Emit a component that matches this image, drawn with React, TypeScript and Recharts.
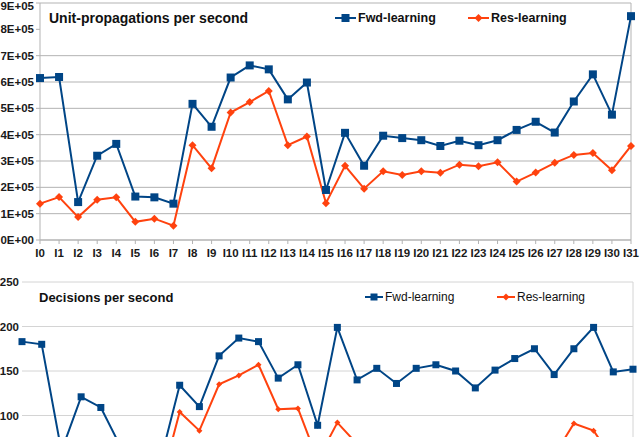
import React from "react";
import {
  LineChart,
  Line,
  XAxis,
  YAxis,
  CartesianGrid,
  ReferenceLine,
  Legend,
} from "recharts";

const instances = [
  "I0", "I1", "I2", "I3", "I4", "I5", "I6", "I7", "I8", "I9",
  "I10", "I11", "I12", "I13", "I14", "I15", "I16", "I17", "I18", "I19",
  "I20", "I21", "I22", "I23", "I24", "I25", "I26", "I27", "I28", "I29",
  "I30", "I31",
];

// unit propagations per second
const upsFwd = [
  615000, 619000, 144000, 320000, 365000, 165000, 162000, 138000, 517000, 430000,
  617000, 663000, 648000, 534000, 598000, 190000, 407000, 282000, 396000, 387000,
  379000, 357000, 377000, 360000, 379000, 418000, 449000, 408000, 526000, 629000,
  476000, 850000,
];
const upsRes = [
  138000, 163000, 87000, 153000, 162000, 69000, 81000, 54000, 360000, 272000,
  484000, 524000, 566000, 360000, 393000, 140000, 282000, 195000, 261000, 247000,
  261000, 255000, 286000, 280000, 295000, 222000, 256000, 293000, 323000, 330000,
  265000, 357000,
];

// decisions per second
const decFwd = [
  183, 180, 60, 121, 109, 65, 60, 47, 134, 110,
  167, 187, 183, 142, 157, 89, 199, 140, 153, 136,
  153, 157, 150, 131, 151, 164, 175, 146, 175, 199,
  149, 152,
];
const decRes = [
  50, 55, 30, 50, 55, 25, 30, 20, 104, 83,
  135, 145, 157, 107, 108, 50, 92, 68, 60, 58,
  60, 58, 62, 60, 63, 50, 52, 55, 91, 83,
  50, 62,
];

const upsTicks = [0, 100000, 200000, 300000, 400000, 500000, 600000, 700000, 800000, 900000];
// only the part of the decisions axis that is on the page
const decTicks = [100, 150, 200, 250];

const FWD = "#004586";
const RES = "#ff420e";
const FONT = "'Liberation Sans', Arial, sans-serif";

const upsData = instances.map((name, i) => ({ name, fwd: upsFwd[i], res: upsRes[i] }));
const decData = instances.map((name, i) => ({ name, fwd: decFwd[i], res: decRes[i] }));

const sciFormat = (v: number) => (v === 0 ? "0E+00" : `${v / 100000}E+05`);

const squareDot = (size: number) => (props: any) => {
  const { cx, cy, index } = props;
  if (cx == null || cy == null) return <g key={index} />;
  return (
    <rect key={index} x={cx - size / 2} y={cy - size / 2} width={size} height={size} fill={FWD} />
  );
};

const diamondDot = (size: number) => (props: any) => {
  const { cx, cy, index } = props;
  if (cx == null || cy == null) return <g key={index} />;
  const h = size / 2;
  return (
    <polygon
      key={index}
      points={`${cx},${cy - h} ${cx + h},${cy} ${cx},${cy + h} ${cx - h},${cy}`}
      fill={RES}
    />
  );
};

function LegendIcon({ kind, w, size }: { kind: "square" | "diamond"; w: number; size: number }) {
  const c = kind === "square" ? FWD : RES;
  const m = w / 2;
  return (
    <svg width={w} height={12} style={{ display: "block" }}>
      <line x1={0} y1={6} x2={w} y2={6} stroke={c} strokeWidth={2} />
      {kind === "square" ? (
        <rect x={m - size / 2} y={6 - size / 2} width={size} height={size} fill={c} />
      ) : (
        <polygon
          points={`${m},${6 - size / 2} ${m + size / 2},6 ${m},${6 + size / 2} ${m - size / 2},6`}
          fill={c}
        />
      )}
    </svg>
  );
}

const makeLegend =
  (opts: { fontSize: number; weight: number; iconW: number; size: number; resLeft: number }) =>
  () =>
    (
      <div style={{ position: "relative", height: 20, width: 260, fontFamily: FONT }}>
        {[
          { label: "Fwd-learning", kind: "square" as const, left: 0 },
          { label: "Res-learning", kind: "diamond" as const, left: opts.resLeft },
        ].map((it) => (
          <div
            key={it.label}
            style={{
              position: "absolute",
              left: it.left,
              top: 0,
              height: 20,
              display: "flex",
              alignItems: "center",
              gap: 2,
              fontSize: opts.fontSize,
              fontWeight: opts.weight,
              color: "#111",
              whiteSpace: "nowrap",
            }}
          >
            <LegendIcon kind={it.kind} w={opts.iconW} size={opts.size} />
            <span>{it.label}</span>
          </div>
        ))}
      </div>
    );

const tickStyle = { fontSize: 11.5, fontWeight: 700, fill: "#1a1a1a", fontFamily: FONT };

export default function App() {
  return (
    <div
      style={{
        position: "fixed",
        left: 0,
        top: 0,
        width: 640,
        height: 437,
        overflow: "hidden",
        background: "#fff",
        fontFamily: FONT,
      }}
    >
      {/* top chart */}
      <div style={{ position: "absolute", left: 0, top: 0 }}>
        <LineChart
          width={640}
          height={265}
          data={upsData}
          margin={{ top: 3, right: 9, left: 0, bottom: 0 }}
        >
          <CartesianGrid vertical={false} stroke="#b3b3b3" />
          <XAxis
            dataKey="name"
            interval={0}
            height={25}
            tick={tickStyle}
            tickSize={4}
            tickMargin={5}
            stroke="#b3b3b3"
          />
          <YAxis
            width={40}
            domain={[0, 900000]}
            ticks={upsTicks}
            tickFormatter={sciFormat}
            tick={tickStyle}
            tickSize={4}
            tickMargin={2}
            stroke="#b3b3b3"
          />
          <ReferenceLine x="I31" stroke="#b3b3b3" />
          <Legend
            layout="vertical"
            align="center"
            verticalAlign="middle"
            wrapperStyle={{ left: 335, top: 8, width: 260 }}
            content={makeLegend({ fontSize: 12.5, weight: 700, iconW: 21, size: 8, resLeft: 133 })}
          />
          <Line
            type="linear"
            dataKey="fwd"
            name="Fwd-learning"
            stroke={FWD}
            strokeWidth={2}
            dot={squareDot(8)}
            activeDot={false}
            isAnimationActive={false}
          />
          <Line
            type="linear"
            dataKey="res"
            name="Res-learning"
            stroke={RES}
            strokeWidth={2}
            dot={diamondDot(8)}
            activeDot={false}
            isAnimationActive={false}
          />
        </LineChart>
        <div
          style={{
            position: "absolute",
            left: 49,
            top: 11,
            fontSize: 14,
            lineHeight: "14px",
            fontWeight: 700,
            color: "#111",
            whiteSpace: "nowrap",
          }}
        >
          Unit-propagations per second
        </div>
      </div>

      {/* bottom chart (the page cuts it off below 100) */}
      <div style={{ position: "absolute", left: 0, top: 270 }}>
        <LineChart
          width={640}
          height={270}
          data={decData}
          margin={{ top: 12, right: 7, left: 0, bottom: 0 }}
        >
          <CartesianGrid vertical={false} stroke="#d4d4d4" />
          <XAxis
            dataKey="name"
            interval={0}
            height={35.5}
            tick={false}
            tickSize={4}
            stroke="#d4d4d4"
          />
          <YAxis
            width={22}
            domain={[0, 250]}
            ticks={decTicks}
            tick={tickStyle}
            tickLine={false}
            axisLine={false}
            tickSize={0}
            tickMargin={3}
          />
          <ReferenceLine x="I31" stroke="#d4d4d4" />
          <Legend
            layout="vertical"
            align="center"
            verticalAlign="middle"
            wrapperStyle={{ left: 365, top: 17, width: 260 }}
            content={makeLegend({ fontSize: 12, weight: 400, iconW: 18, size: 7, resLeft: 132 })}
          />
          <Line
            type="linear"
            dataKey="fwd"
            name="Fwd-learning"
            stroke={FWD}
            strokeWidth={2}
            dot={squareDot(7)}
            activeDot={false}
            isAnimationActive={false}
          />
          <Line
            type="linear"
            dataKey="res"
            name="Res-learning"
            stroke={RES}
            strokeWidth={2}
            dot={diamondDot(6)}
            activeDot={false}
            isAnimationActive={false}
          />
        </LineChart>
        <div
          style={{
            position: "absolute",
            left: 39,
            top: 21,
            fontSize: 13,
            lineHeight: "13px",
            fontWeight: 700,
            color: "#111",
            whiteSpace: "nowrap",
          }}
        >
          Decisions per second
        </div>
      </div>
    </div>
  );
}
